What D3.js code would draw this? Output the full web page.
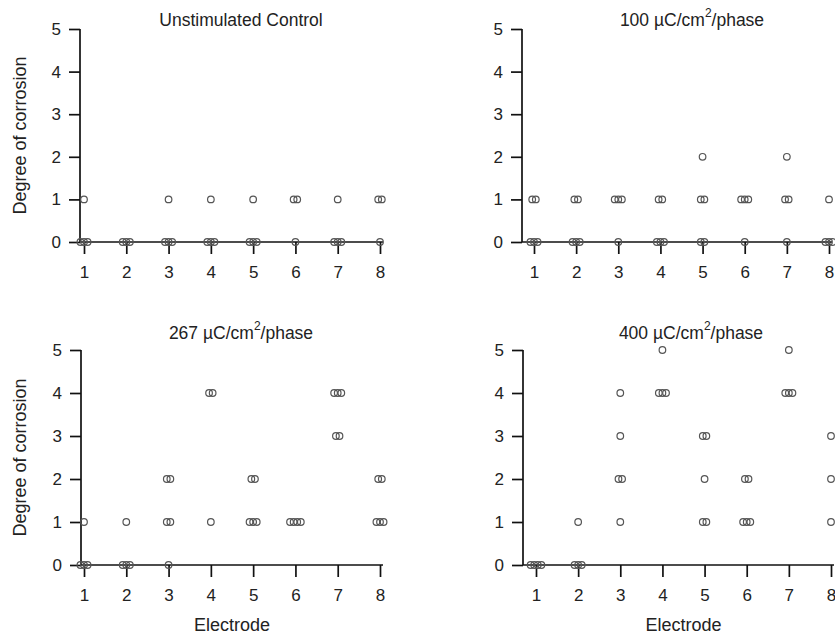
<!DOCTYPE html>
<html>
<head>
<meta charset="utf-8">
<script src="https://d3js.org/d3.v7.min.js"></script>
<style>
  html, body { margin: 0; padding: 0; background: #fff; }
  svg { display: block; }
  text { font-family: "Liberation Sans", Arial, sans-serif; fill: #222; }
</style>
</head>
<body>
<svg id="chart" width="835" height="637"></svg>
<script>
// ---- Data: [electrode, degree of corrosion, number of electrodes at that value] ----
const electrodes = [1, 2, 3, 4, 5, 6, 7, 8];
const yTicks = [0, 1, 2, 3, 4, 5];

const control = [
  [1,1,1],[1,0,3],[2,0,3],[3,1,1],[3,0,3],[4,1,1],[4,0,3],[5,1,1],[5,0,3],
  [6,1,2],[6,0,1],[7,1,1],[7,0,3],[8,1,2],[8,0,1]
];
const dose100 = [
  [1,1,2],[1,0,3],[2,1,2],[2,0,3],[3,1,3],[3,0,1],[4,1,2],[4,0,3],
  [5,2,1],[5,1,2],[5,0,2],[6,1,3],[6,0,1],[7,2,1],[7,1,2],[7,0,1],[8,1,1],[8,0,3]
];
const dose267 = [
  [1,1,1],[1,0,3],[2,1,1],[2,0,3],[3,2,2],[3,1,2],[3,0,1],[4,4,2],[4,1,1],
  [5,2,2],[5,1,3],[6,1,4],[7,4,3],[7,3,2],[8,2,2],[8,1,3]
];
const dose400 = [
  [1,0,4],[2,1,1],[2,0,3],[3,4,1],[3,3,1],[3,2,2],[3,1,1],[4,5,1],[4,4,3],
  [5,3,2],[5,2,1],[5,1,2],[6,2,2],[6,1,3],[7,5,1],[7,4,3],[8,3,1],[8,2,1],[8,1,1]
];

const panelTitles = ["Unstimulated Control", "100", "267", "400"];
const panelData = [control, dose100, dose267, dose400];

// ---- Layout ----
const svg = d3.select("#chart");
const panels = [
  {x0: 80,  xTick1: 84,  xTick8: 380, yTop: 29,  yBot: 242, showXLabel: false, showYLabel: true,  titleX: 241, titleY: 25.5},
  {x0: 522, xTick1: 534, xTick8: 829, yTop: 29,  yBot: 242, showXLabel: false, showYLabel: false, titleX: 692, titleY: 25.5},
  {x0: 81,  xTick1: 84,  xTick8: 380, yTop: 350, yBot: 565, showXLabel: true,  showYLabel: true,  titleX: 241, titleY: 339},
  {x0: 523, xTick1: 536, xTick8: 831, yTop: 350, yBot: 565, showXLabel: true,  showYLabel: false, titleX: 691, titleY: 339}
];

panels.forEach((p, k) => {
  const x = d3.scaleLinear().domain([1, 8]).range([p.xTick1, p.xTick8]);
  const y = d3.scaleLinear().domain([0, 5]).range([p.yBot, p.yTop]);
  const g = svg.append("g");

  const pts = [];
  panelData[k].forEach(([e, v, n]) => {
    for (let i = 0; i < n; i++) {
      pts.push({e, v, off: (i - (n - 1) / 2) * 3.6});
    }
  });

  // y axis
  const yAxis = d3.axisLeft(y).tickValues(yTicks).tickSize(11).tickPadding(8).tickFormat(d3.format("d"));
  const yg = g.append("g").attr("transform", `translate(${p.x0},0)`).call(yAxis);
  yg.select(".domain").remove();
  yg.append("line").attr("x1", 0).attr("x2", 0).attr("y1", y(0)).attr("y2", y(5))
    .attr("stroke", "#111").attr("stroke-width", 1.7);
  yg.selectAll(".tick line").attr("stroke", "#111").attr("stroke-width", 1.7);
  yg.selectAll(".tick text").attr("font-size", 17).attr("fill", "#222");

  // x axis
  const xAxis = d3.axisBottom(x).tickValues(electrodes).tickSize(12).tickPadding(12).tickFormat(d3.format("d"));
  const xg = g.append("g").attr("transform", `translate(0,${p.yBot})`).call(xAxis);
  xg.select(".domain").remove();
  xg.append("line").attr("x1", p.x0).attr("x2", x(8) + 3).attr("y1", 0).attr("y2", 0)
    .attr("stroke", "#111").attr("stroke-width", 1.7);
  xg.selectAll(".tick line").attr("stroke", "#111").attr("stroke-width", 1.7);
  xg.selectAll(".tick text").attr("font-size", 17).attr("fill", "#222");

  g.selectAll("circle.pt").data(pts).enter().append("circle")
    .attr("class", "pt")
    .attr("cx", d => x(d.e) + d.off)
    .attr("cy", d => y(d.v))
    .attr("r", 3.3)
    .attr("fill", "none")
    .attr("stroke", "#555")
    .attr("stroke-width", 1.2);

  // title
  const t = svg.append("text").attr("x", p.titleX).attr("y", p.titleY)
    .attr("text-anchor", "middle").attr("font-size", 17.5);
  if (k === 0) {
    t.text(panelTitles[k]);
  } else {
    t.append("tspan").text(panelTitles[k] + " \u00B5C/cm");
    t.append("tspan").attr("dy", -9).attr("font-size", 12).text("2");
    t.append("tspan").attr("dy", 9).text("/phase");
  }

  if (p.showYLabel) {
    svg.append("text")
      .attr("transform", `translate(26,${(p.yTop + p.yBot) / 2}) rotate(-90)`)
      .attr("text-anchor", "middle").attr("font-size", 18)
      .text("Degree of corrosion");
  }
  if (p.showXLabel) {
    svg.append("text").attr("x", (x(1) + x(8)) / 2).attr("y", 631)
      .attr("text-anchor", "middle").attr("font-size", 18)
      .text("Electrode");
  }
});
</script>
</body>
</html>
